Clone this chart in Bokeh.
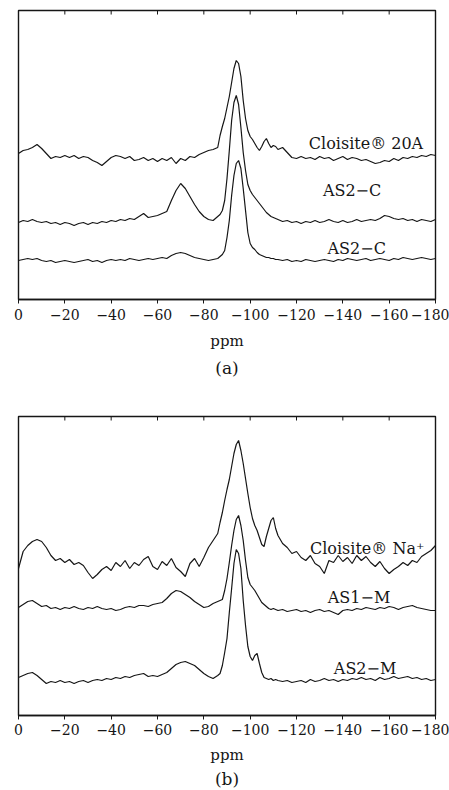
from bokeh.plotting import figure
from bokeh.layouts import column
from bokeh.models import Range1d, FixedTicker, Title, ColumnDataSource
from bokeh.core.properties import value
from bokeh.embed import file_html
from bokeh.resources import INLINE

# chemical shift sampling positions (ppm)
ppm = list(range(0, -87, -2)) + list(range(-87, -112, -1)) + list(range(-112, -181, -2))

# ---- panel (a) intensities (arbitrary units, offset stacked) ----
cloisite_20a = [146,149,150,152,155,151,146,141,143,142,144,142,144,141,143,142,139,137,134,138,
                142,144,143,141,143,139,140,142,139,141,138,141,139,142,136,141,139,143,142,145,
                147,149,150,152,
                164,173,181,192,203,217,231,239,236,223,199,181,169,163,160,156,152,149,153,158,
                161,156,152,154,153,
                150,152,147,142,141,143,141,142,140,143,141,142,139,141,143,140,142,141,139,140,
                138,136,137,139,138,141,139,142,141,143,142,144,143,145,144]
as2_c_upper = [77,79,78,80,78,77,78,76,77,75,77,76,74,76,77,75,77,76,78,77,
               79,78,80,79,81,80,83,86,82,83,84,86,88,99,109,116,111,103,95,88,
               83,80,79,83,
               85,89,99,121,149,179,197,204,195,172,147,129,115,109,105,102,99,96,93,90,
               87,85,83,82,81,
               80,78,79,77,78,76,78,77,79,77,78,80,78,77,79,77,78,80,78,79,
               80,79,81,84,83,81,80,81,79,80,78,80,79,78,80]
as2_c_lower = [39,40,41,40,41,39,38,39,37,38,39,38,37,38,39,40,38,39,37,39,
               40,39,40,39,41,40,39,40,41,40,41,42,41,44,46,47,46,44,42,41,
               40,39,40,41,
               43,45,49,62,79,104,124,136,139,131,111,89,67,56,52,50,47,45,44,43,
               42,42,41,41,40,
               40,39,40,38,39,38,40,39,38,39,40,39,38,40,39,41,40,39,40,41,
               39,40,41,40,39,41,40,42,41,40,41,42,41,40,41]

# ---- panel (b) intensities ----
cloisite_na = [147,164,170,174,176,174,168,160,155,157,153,156,151,153,150,143,137,141,146,149,
               145,153,149,155,147,153,150,156,159,149,146,154,150,157,148,144,139,152,157,149,
               158,168,175,182,
               193,203,215,226,236,249,262,271,275,265,252,237,222,208,197,190,185,178,171,169,
               179,187,195,198,187,
               180,172,168,162,164,158,155,160,152,149,142,155,153,160,154,158,152,160,155,159,
               153,149,154,147,142,146,149,153,150,155,153,159,162,165,170]
as1_m = [108,111,114,115,112,109,110,107,108,106,108,107,109,107,106,108,107,109,107,106,
         107,105,106,108,109,108,110,110,109,111,112,113,117,122,125,124,121,118,114,111,
         108,109,112,114,
         115,116,125,137,153,170,185,196,200,190,175,155,138,131,128,125,121,117,113,111,
         109,107,106,107,106,
         105,106,104,105,106,104,105,103,105,106,104,105,103,101,105,106,105,107,106,108,
         107,106,108,107,109,108,106,108,109,110,108,107,106,105,105]
as2_m = [38,40,42,43,40,36,32,34,33,35,33,34,32,34,35,33,35,36,35,37,
         36,38,37,39,38,40,41,42,39,40,39,41,43,47,51,53,54,52,50,46,
         42,39,37,40,
         42,50,63,77,103,127,152,166,162,147,115,90,69,59,55,60,62,52,43,38,
         37,36,37,35,36,
         35,34,35,33,34,35,33,36,34,35,37,35,36,34,36,35,37,36,38,36,
         37,35,38,36,37,39,37,38,39,37,38,36,37,35,36]

tick_values = [0, -20, -40, -60, -80, -100, -120, -140, -160, -180]
tick_labels = ["0", "\u221220", "\u221240", "\u221260", "\u221280", "\u2212100",
               "\u2212120", "\u2212140", "\u2212160", "\u2212180"]

labels_a = ["Cloisite\u00ae 20A", "AS2\u2212C", "AS2\u2212C"]
labels_a_x = [-150, -144, -146]
labels_a_y = [156, 109, 51]
labels_b = ["Cloisite\u00ae Na\u207a", "AS1\u2212M", "AS2\u2212M"]
labels_b_x = [-150.5, -147, -149.6]
labels_b_y = [167, 118, 47]

FONT = "DejaVu Serif"
INK = "#161616"
TOP_TICK = 4  # inward tick length at the top edge, in data units (1 unit = 1 px)


def make_panel(series, ymax, lab, lx, ly, tag, top_border, bottom_border,
               lab_standoff, axlab_standoff, title_standoff):
    p = figure(frame_width=417, frame_height=ymax, output_backend="svg",
               toolbar_location=None, y_axis_location=None,
               x_range=Range1d(0, -180), y_range=Range1d(0, ymax),
               min_border_left=18, min_border_right=14,
               min_border_top=top_border, min_border_bottom=bottom_border)
    p.grid.visible = False
    p.background_fill_color = "white"
    p.border_fill_color = "white"
    p.outline_line_color = INK
    p.outline_line_width = 1.4

    for ys in series:
        p.line(ppm, ys, line_color=INK, line_width=1.2)

    # inward ticks along the top edge
    p.segment(x0=tick_values, x1=tick_values, y0=[ymax] * len(tick_values),
              y1=[ymax - TOP_TICK] * len(tick_values), line_color=INK, line_width=1)

    src = ColumnDataSource(dict(x=lx, y=ly, t=lab))
    p.text(x="x", y="y", text="t", source=src, text_font=value(FONT),
           text_font_size=value("16px"), text_align="center",
           text_baseline="alphabetic", text_color=INK)

    ax = p.xaxis[0]
    ax.ticker = FixedTicker(ticks=tick_values)
    ax.major_label_overrides = {v: s for v, s in zip(tick_values, tick_labels)}
    ax.major_label_text_font = FONT
    ax.major_label_text_font_size = "14px"
    ax.major_label_text_color = INK
    ax.major_label_standoff = lab_standoff
    ax.major_tick_in = 0
    ax.major_tick_out = 4
    ax.minor_tick_line_color = None
    ax.axis_line_color = INK
    ax.axis_line_width = 1.4
    ax.major_tick_line_color = INK
    ax.axis_label = "ppm"
    ax.axis_label_text_font = FONT
    ax.axis_label_text_font_style = "normal"
    ax.axis_label_text_font_size = "15px"
    ax.axis_label_text_color = INK
    ax.axis_label_standoff = axlab_standoff

    p.add_layout(Title(text=tag, align="center", text_font=FONT, text_font_size="17px",
                       text_font_style="normal", text_color=INK, standoff=title_standoff),
                 "below")
    return p


pa = make_panel([cloisite_20a, as2_c_upper, as2_c_lower], 289, labels_a, labels_a_x, labels_a_y,
                "(a)", 10, 97, 5, 9, 6)
pb = make_panel([cloisite_na, as1_m, as2_m], 299, labels_b, labels_b_x, labels_b_y,
                "(b)", 20, 75, 4, 8, 0)

layout = column(pa, pb, spacing=0)
open("out.html", "w").write(file_html(layout, INLINE))
